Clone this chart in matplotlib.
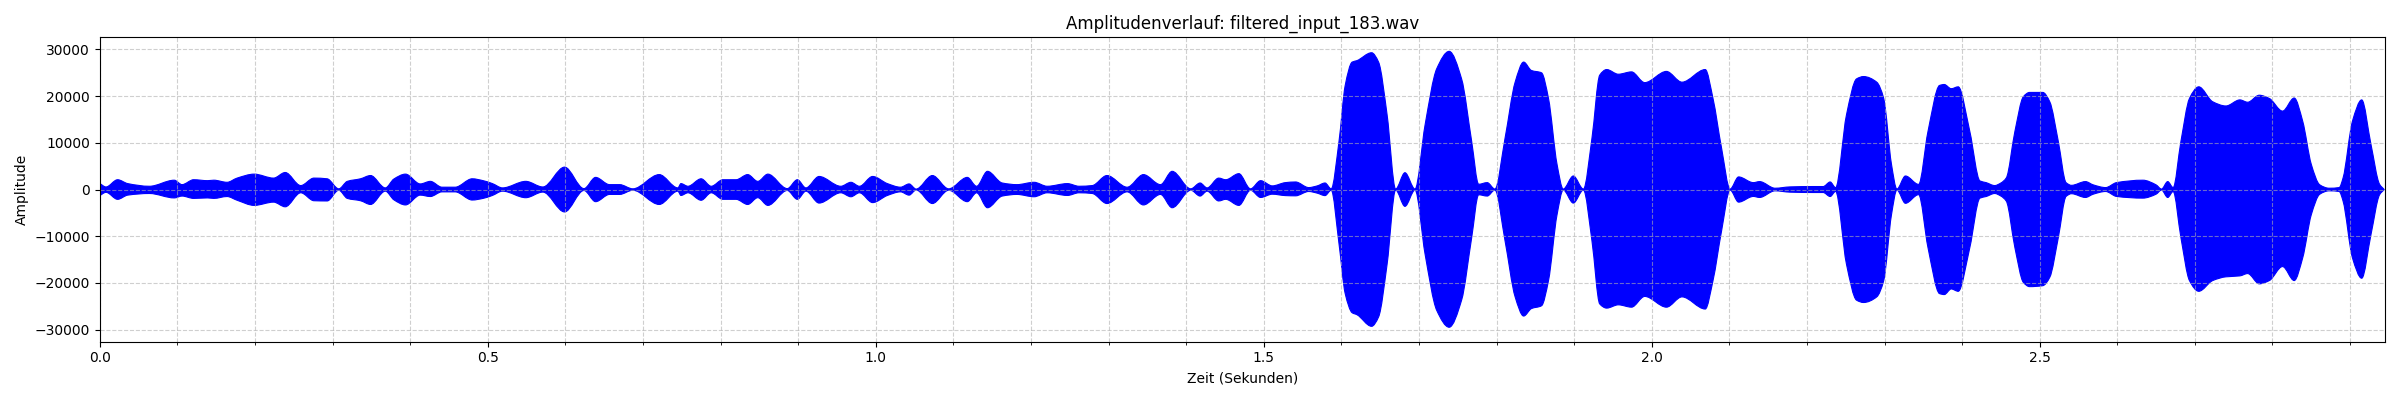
import matplotlib
matplotlib.use("Agg")
import numpy as np
import matplotlib.pyplot as plt
from matplotlib.path import Path
from matplotlib.patches import PathPatch
from matplotlib.ticker import MultipleLocator

# Huellkurve des Signals (Zeit in s, obere/untere Amplitude)
zeit = [0.000, 0.008, 0.023, 0.036, 0.064, 0.096, 0.106, 0.121, 0.139, 0.147,
        0.164, 0.177, 0.199, 0.224, 0.239, 0.259, 0.276, 0.293, 0.308, 0.319,
        0.336, 0.349, 0.368, 0.379, 0.394, 0.413, 0.426, 0.441, 0.458, 0.480,
        0.494, 0.506, 0.519, 0.549, 0.571, 0.599, 0.624, 0.639, 0.657, 0.670,
        0.687, 0.721, 0.745, 0.749, 0.758, 0.775, 0.788, 0.803, 0.820, 0.835,
        0.848, 0.861, 0.886, 0.899, 0.910, 0.927, 0.955, 0.968, 0.979, 0.996,
        1.015, 1.032, 1.043, 1.052, 1.073, 1.094, 1.118, 1.130, 1.144, 1.163,
        1.182, 1.204, 1.221, 1.247, 1.262, 1.279, 1.298, 1.324, 1.345, 1.367,
        1.382, 1.406, 1.418, 1.427, 1.442, 1.451, 1.468, 1.483, 1.496, 1.511,
        1.528, 1.541, 1.558, 1.569, 1.579, 1.587, 1.597, 1.605, 1.614, 1.620,
        1.639, 1.648, 1.659, 1.670, 1.682, 1.695, 1.708, 1.723, 1.739, 1.755,
        1.768, 1.777, 1.788, 1.798, 1.811, 1.824, 1.835, 1.845, 1.858, 1.867,
        1.878, 1.886, 1.899, 1.912, 1.923, 1.933, 1.942, 1.957, 1.974, 1.991,
        2.019, 2.039, 2.069, 2.079, 2.090, 2.101, 2.112, 2.131, 2.139, 2.159,
        2.178, 2.208, 2.221, 2.230, 2.237, 2.251, 2.264, 2.273, 2.290, 2.299,
        2.309, 2.316, 2.327, 2.344, 2.356, 2.371, 2.377, 2.386, 2.395, 2.410,
        2.423, 2.431, 2.442, 2.450, 2.457, 2.468, 2.479, 2.487, 2.504, 2.513,
        2.524, 2.534, 2.541, 2.559, 2.569, 2.585, 2.599, 2.633, 2.650, 2.657,
        2.665, 2.672, 2.682, 2.693, 2.705, 2.723, 2.740, 2.758, 2.768, 2.783,
        2.796, 2.813, 2.828, 2.839, 2.850, 2.861, 2.873, 2.886, 2.891, 2.903,
        2.915, 2.927, 2.938, 2.944]

oben = [1300, 550, 2100, 1270, 700, 2000, 1050, 2100, 1900, 2000,
        1550, 2450, 3300, 2450, 3650, 850, 2450, 2300, 150, 1750,
        2300, 3000, 350, 2250, 3300, 1200, 1750, 500, 500, 2300,
        1900, 1270, 350, 1750, 550, 4800, 200, 2600, 1050, 1050,
        150, 3200, 350, 1270, 700, 2300, 700, 2100, 2100, 3200,
        1750, 3300, 200, 2100, 350, 2800, 700, 1550, 700, 2800,
        1270, 500, 1200, 100, 3000, 150, 2600, 700, 3900, 1400,
        1050, 1550, 700, 1270, 700, 850, 3000, 500, 3200, 1050,
        3900, 150, 1400, 350, 2450, 2100, 3400, 150, 1900, 780,
        1480, 1620, 420, 780, 1400, 140, 10300, 22300, 27300, 27600,
        29300, 27300, 16000, 100, 3600, 100, 13900, 25900, 29600, 23700,
        10300, 1130, 1480, 100, 11000, 23000, 27300, 25500, 25000, 19500,
        5400, 100, 2900, 100, 11000, 24500, 25700, 24700, 25200, 22900,
        25300, 23000, 25700, 19500, 8900, 100, 2700, 1480, 1700, 280,
        560, 640, 640, 1620, 400, 16000, 23700, 24200, 23000, 19500,
        5400, 100, 2900, 1100, 12400, 22300, 22500, 21600, 22000, 12400,
        1840, 1480, 850, 1400, 2500, 12400, 19900, 20800, 20800, 18800,
        10300, 1480, 900, 1700, 1000, 420, 1480, 2000, 1000, 100,
        1700, 420, 10300, 19500, 22000, 18800, 17900, 19200, 18700, 20200,
        19500, 16800, 19600, 14600, 5400, 1000, 280, 420, 2500, 14600,
        19200, 9600, 1130, 0]

unten = [-1300, -600, -2100, -1200, -850, -1800, -1400, -1900, -1800, -1900,
         -1500, -2300, -3400, -2700, -3700, -700, -2400, -2450, -150, -1900,
         -2400, -3200, -350, -2200, -3300, -1200, -1500, -500, -500, -2250,
         -1900, -1270, -350, -1750, -550, -4800, -200, -2600, -1050, -1050,
         -150, -3200, -350, -1270, -700, -2300, -700, -2100, -2100, -3200,
         -1750, -3400, -200, -2100, -350, -2900, -700, -1550, -700, -2800,
         -1270, -500, -1200, -100, -3000, -150, -2600, -700, -3900, -1400,
         -1050, -1550, -700, -1270, -700, -850, -3000, -500, -3300, -1050,
         -3900, -150, -1400, -350, -2450, -2100, -3400, -150, -1700, -1000,
         -1300, -1350, -420, -780, -1300, -140, -11600, -22300, -26400, -26800,
         -29300, -27300, -16000, -100, -3600, -100, -13900, -25900, -29500, -23700,
         -10300, -1130, -1400, -100, -11000, -23000, -27100, -25500, -24900, -19500,
         -5400, -100, -2900, -100, -11000, -24500, -25400, -24700, -25200, -22900,
         -25200, -23000, -25600, -19500, -8900, -100, -2700, -1480, -1700, -280,
         -560, -640, -640, -1500, -400, -16000, -23700, -24200, -23000, -19500,
         -5400, -100, -2950, -1100, -12400, -22300, -22500, -21300, -21800, -12400,
         -1840, -1500, -850, -1400, -2500, -12400, -19900, -20800, -20600, -18800,
         -10300, -1480, -900, -1700, -1000, -420, -1480, -1840, -1000, -100,
         -1700, -420, -10300, -19500, -21800, -19500, -18700, -18500, -18000, -20200,
         -19500, -16500, -19500, -14600, -5400, -1000, -280, -420, -2500, -14600,
         -19000, -9600, -1130, 0]

dateiname = "filtered_input_183.wav"
dauer = 2.945


def bezier_segmente(x, y):
    # monotone kubische Tangenten (Fritsch-Carlson), als Bezier-Kontrollpunkte
    x = np.asarray(x, float); y = np.asarray(y, float)
    h = np.diff(x); d = np.diff(y) / h
    m = np.zeros_like(y)
    m[0], m[-1] = d[0], d[-1]
    for i in range(1, len(x) - 1):
        if d[i - 1] * d[i] > 0:
            w1 = 2 * h[i] + h[i - 1]; w2 = h[i] + 2 * h[i - 1]
            m[i] = (w1 + w2) / (w1 / d[i - 1] + w2 / d[i])
    segs = []
    for i in range(len(h)):
        p1 = (x[i] + h[i] / 3, y[i] + m[i] * h[i] / 3)
        p2 = (x[i + 1] - h[i] / 3, y[i + 1] - m[i + 1] * h[i] / 3)
        segs.append((p1, p2, (x[i + 1], y[i + 1])))
    return segs


verts = [(zeit[0], oben[0])]
codes = [Path.MOVETO]
for p1, p2, p3 in bezier_segmente(zeit, oben):
    verts += [p1, p2, p3]
    codes += [Path.CURVE4] * 3
verts.append((zeit[-1], unten[-1]))
codes.append(Path.LINETO)
segs_u = bezier_segmente(zeit, unten)
for i in range(len(segs_u) - 1, -1, -1):
    p1, p2, p3 = segs_u[i]
    verts += [p2, p1, (zeit[i], unten[i])]
    codes += [Path.CURVE4] * 3
verts.append((zeit[0], oben[0]))
codes.append(Path.CLOSEPOLY)

fig, ax = plt.subplots(figsize=(24, 4), dpi=100)
ax.add_patch(PathPatch(Path(verts, codes), facecolor="blue", edgecolor="blue", linewidth=0.8))
ax.set_xlim(0, dauer)
ax.set_ylim(-32600, 32600)
ax.xaxis.set_minor_locator(MultipleLocator(0.1))
ax.grid(True, which="both", linestyle="--", alpha=0.6)
ax.set_title("Amplitudenverlauf: " + dateiname)
ax.set_xlabel("Zeit (Sekunden)")
ax.set_ylabel("Amplitude")
plt.tight_layout()
plt.savefig("out.png")
